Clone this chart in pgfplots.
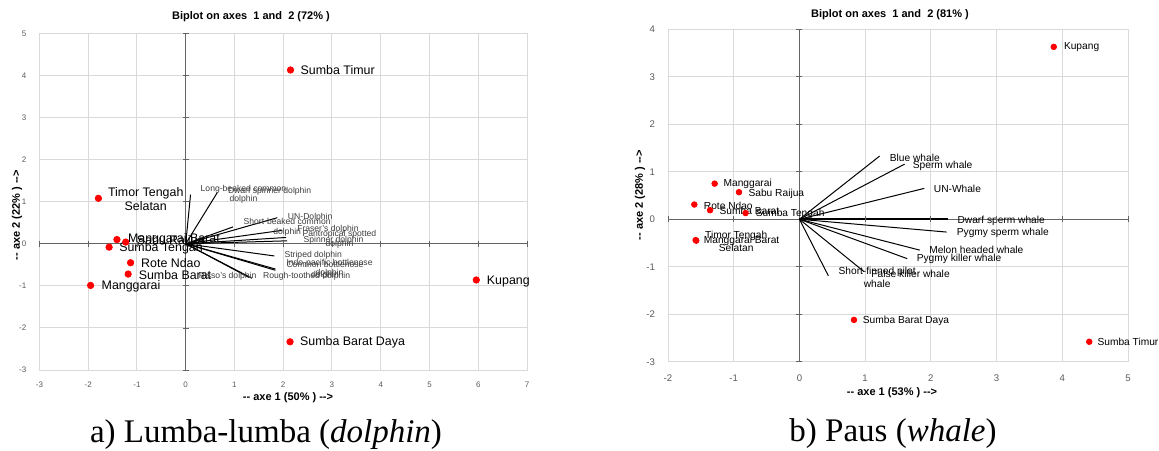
\documentclass[border=0pt]{standalone}
\usepackage{fontspec}
\setmainfont{Liberation Sans}
\newfontfamily\capfont{Liberation Serif}
\usepackage{pgfplots}
\pgfplotsset{compat=1.18}
\definecolor{gridgray}{RGB}{217,217,217}
\definecolor{axgray}{RGB}{100,100,100}
\definecolor{ticktext}{RGB}{90,90,90}
\definecolor{dotred}{RGB}{255,0,0}
\definecolor{lbl}{RGB}{60,60,60}

\pgfplotsset{biplot/.style={
  scale only axis, clip=false,
  axis line style={gridgray, line width=0.5pt},
  grid=major, grid style={gridgray, line width=0.5pt},
  major tick length=0pt, tick style={draw=none},
  tick label style={text=ticktext, /pgf/number format/assume math mode=true},
}}

\begin{document}
\begin{tikzpicture}
\useasboundingbox (0,0) rectangle (579.5pt,225pt);

% ---------------- a) dolphin ----------------
\begin{axis}[biplot, at={(19.7pt,40pt)}, anchor=south west,
  width=243.8pt, height=168.3pt,
  xmin=-3, xmax=7, ymin=-3, ymax=5,
  xtick={-3,...,7}, ytick={-3,...,5},
  tick label style={font=\fontsize{4}{4}\selectfont},
  xticklabel style={yshift=-2.5pt}, yticklabel style={xshift=-3pt}]
\addplot[axgray, line width=0.6pt] coordinates {(-3,0) (7,0)};
\addplot[axgray, line width=0.6pt] coordinates {(0,-3) (0,5)};
\addplot[only marks, mark=|, mark size=1.5pt, mark options={draw=axgray}] coordinates {(-3,0)(-2,0)(-1,0)(1,0)(2,0)(3,0)(4,0)(5,0)(6,0)(7,0)};
\addplot[only marks, mark=-, mark size=1.5pt, mark options={draw=axgray}] coordinates {(0,-3)(0,-2)(0,-1)(0,1)(0,2)(0,3)(0,4)(0,5)};
% variable vectors
\addplot[black, line width=0.5pt] coordinates {(0,0) (0.10,1.17)};
\addplot[black, line width=0.5pt] coordinates {(0,0) (0.65,1.22)};
\addplot[black, line width=0.5pt] coordinates {(0,0) (0.97,0.40)};
\addplot[black, line width=0.5pt] coordinates {(0,0) (1.88,0.62)};
\addplot[black, line width=0.5pt] coordinates {(0,0) (1.98,0.32)};
\addplot[black, line width=0.5pt] coordinates {(0,0) (2.06,0.15)};
\addplot[black, line width=0.5pt] coordinates {(0,0) (2.08,0.07)};
\addplot[black, line width=0.5pt] coordinates {(0,0) (1.82,-0.29)};
\addplot[black, line width=0.5pt] coordinates {(0,0) (1.84,-0.63)};
\addplot[black, line width=0.5pt] coordinates {(0,0) (1.84,-0.60)};
\addplot[black, line width=0.5pt] coordinates {(0,0) (1.36,-0.82)};
\addplot[black, line width=0.5pt] coordinates {(0,0) (1.30,-0.80)};
% observations
\addplot[only marks, mark=*, mark size=1.6pt, color=dotred] coordinates {
  (2.15,4.13) (-1.79,1.08) (-1.41,0.10) (-1.23,0.04) (-1.57,-0.08)
  (-1.13,-0.45) (-1.18,-0.72) (-1.95,-0.99) (5.96,-0.86) (2.14,-2.33)};
\begin{scope}[every node/.style={inner sep=0pt, font=\fontsize{4.3}{5}\selectfont, text=lbl}]
\node[anchor=west, align=center] at (axis cs:0.30,1.17) {Long-beaked common\\dolphin};
\node[anchor=west] at (axis cs:0.86,1.24) {Dwarf spinner dolphin};
\node[anchor=west, align=center] at (axis cs:1.18,0.40) {Short-beaked common\\dolphin};
\node[anchor=west] at (axis cs:2.09,0.64) {UN-Dolphin};
\node[anchor=west] at (axis cs:2.28,0.34) {Fraser's dolphin};
\node[anchor=west, align=center] at (axis cs:2.39,0.10) {Pantropical spotted\\dolphin};
\node[anchor=west] at (axis cs:2.41,0.08) {Spinner dolphin};
\node[anchor=west] at (axis cs:2.02,-0.28) {Striped dolphin};
\node[anchor=west, align=center] at (axis cs:2.06,-0.59) {Indo-pacific bottlenose\\dolphin};
\node[anchor=west, align=center] at (axis cs:2.06,-0.62) {Common bottlenose\\dolphin};
\node[anchor=west] at (axis cs:1.58,-0.78) {Rough-toothed dolphin};
\node[anchor=west] at (axis cs:0.26,-0.78) {Risso's dolphin};
\end{scope}
\begin{scope}[every node/.style={inner sep=0pt, font=\fontsize{6.2}{7}\selectfont}]
\node[anchor=west] at (axis cs:2.35,4.13) {Sumba Timur};
\node[anchor=west, align=center] at (axis cs:-1.60,1.06) {Timor Tengah\\Selatan};
\node[anchor=west] at (axis cs:-1.19,0.11) {Manggarai Barat};
\node[anchor=west] at (axis cs:-1.01,0.05) {Sabu Raijua};
\node[anchor=west] at (axis cs:-1.37,-0.10) {Sumba Tengah};
\node[anchor=west] at (axis cs:-0.92,-0.46) {Rote Ndao};
\node[anchor=west] at (axis cs:-0.97,-0.74) {Sumba Barat};
\node[anchor=west] at (axis cs:-1.73,-1.02) {Manggarai};
\node[anchor=west] at (axis cs:6.17,-0.89) {Kupang};
\node[anchor=west] at (axis cs:2.34,-2.33) {Sumba Barat Daya};
\end{scope}
\end{axis}

% ---------------- b) whale ----------------
\begin{axis}[biplot, at={(334pt,44.15pt)}, anchor=south west,
  width=230pt, height=166.2pt,
  xmin=-2, xmax=5, ymin=-3, ymax=4,
  xtick={-2,...,5}, ytick={-3,...,4},
  tick label style={font=\fontsize{4.8}{5}\selectfont},
  xticklabel style={yshift=-3pt}, yticklabel style={xshift=-3pt}]
\addplot[axgray, line width=0.6pt] coordinates {(-2,0) (5,0)};
\addplot[axgray, line width=0.6pt] coordinates {(0,-3) (0,4)};
\addplot[only marks, mark=|, mark size=1.5pt, mark options={draw=axgray}] coordinates {(-2,0)(-1,0)(1,0)(2,0)(3,0)(4,0)(5,0)};
\addplot[only marks, mark=-, mark size=1.5pt, mark options={draw=axgray}] coordinates {(0,-3)(0,-2)(0,-1)(0,1)(0,2)(0,3)(0,4)};
% variable vectors
\addplot[black, line width=0.5pt] coordinates {(0,0) (1.22,1.33)};
\addplot[black, line width=0.5pt] coordinates {(0,0) (1.60,1.16)};
\addplot[black, line width=0.5pt] coordinates {(0,0) (1.90,0.65)};
\addplot[black, line width=1.1pt] coordinates {(0,0) (2.26,0.00)};
\addplot[black, line width=0.5pt] coordinates {(0,0) (2.24,-0.27)};
\addplot[black, line width=0.5pt] coordinates {(0,0) (1.83,-0.65)};
\addplot[black, line width=0.5pt] coordinates {(0,0) (1.64,-0.83)};
\addplot[black, line width=0.5pt] coordinates {(0,0) (0.98,-1.10)};
\addplot[black, line width=0.5pt] coordinates {(0,0) (0.44,-1.19)};
% observations
\addplot[only marks, mark=*, mark size=1.4pt, color=dotred] coordinates {
  (3.87,3.63) (-1.29,0.75) (-0.92,0.57) (-1.60,0.31) (-1.36,0.19)
  (-0.82,0.13) (-1.58,-0.44) (-1.57,-0.45) (0.83,-2.12) (4.41,-2.58)};
\begin{scope}[every node/.style={inner sep=0pt, font=\fontsize{5.1}{6.3}\selectfont}]
\node[anchor=west] at (axis cs:1.37,1.30) {Blue whale};
\node[anchor=west] at (axis cs:1.72,1.12) {Sperm whale};
\node[anchor=west] at (axis cs:2.04,0.63) {UN-Whale};
\node[anchor=west] at (axis cs:2.40,-0.04) {Dwarf sperm whale};
\node[anchor=west] at (axis cs:2.39,-0.29) {Pygmy sperm whale};
\node[anchor=west] at (axis cs:1.97,-0.65) {Melon headed whale};
\node[anchor=west] at (axis cs:1.78,-0.83) {Pygmy killer whale};
\node[anchor=west] at (axis cs:1.09,-1.14) {False killer whale};
\node[anchor=west, align=center] at (axis cs:0.59,-1.22) {Short-finned pilot\\whale};
\node[anchor=west] at (axis cs:4.02,3.63) {Kupang};
\node[anchor=west] at (axis cs:-1.16,0.75) {Manggarai};
\node[anchor=west] at (axis cs:-0.78,0.54) {Sabu Raijua};
\node[anchor=west] at (axis cs:-1.46,0.29) {Rote Ndao};
\node[anchor=west] at (axis cs:-1.22,0.17) {Sumba Barat};
\node[anchor=west] at (axis cs:-0.67,0.105) {Sumba Tengah};
\node[anchor=west, align=center] at (axis cs:-1.44,-0.46) {Timor Tengah\\Selatan};
\node[anchor=west] at (axis cs:-1.46,-0.46) {Manggarai Barat};
\node[anchor=west] at (axis cs:0.96,-2.13) {Sumba Barat Daya};
\node[anchor=west] at (axis cs:4.53,-2.59) {Sumba Timur};
\end{scope}
\end{axis}

% titles, axis labels, captions
\node[font=\bfseries\fontsize{5.5}{6}\selectfont] at (125.5pt,216.5pt) {Biplot on axes~ 1 and~ 2 (72\%~)};
\node[font=\bfseries\fontsize{5.5}{6}\selectfont] at (445pt,217.5pt) {Biplot on axes~ 1 and~ 2 (81\%~)};
\node[font=\bfseries\fontsize{5.5}{6}\selectfont] at (144pt,26pt) {-{}- axe 1 (50\%~) -{}->};
\node[font=\bfseries\fontsize{5.5}{6}\selectfont] at (446pt,28.5pt) {-{}- axe 1 (53\%~) -{}->};
\node[font=\bfseries\fontsize{5.5}{6}\selectfont, rotate=90] at (8.5pt,117.5pt) {-{}- axe 2 (22\%~) -{}->};
\node[font=\bfseries\fontsize{5.5}{6}\selectfont, rotate=90] at (320pt,127.5pt) {-{}- axe 2 (28\%~) -{}->};
\node[font=\capfont\fontsize{16.5}{18}\selectfont, inner sep=0pt] at (133pt,7.5pt) {a) Lumba-lumba (\textit{dolphin})};
\node[font=\capfont\fontsize{16.5}{18}\selectfont, inner sep=0pt] at (446.5pt,8pt) {b) Paus (\textit{whale})};
\end{tikzpicture}
\end{document}
